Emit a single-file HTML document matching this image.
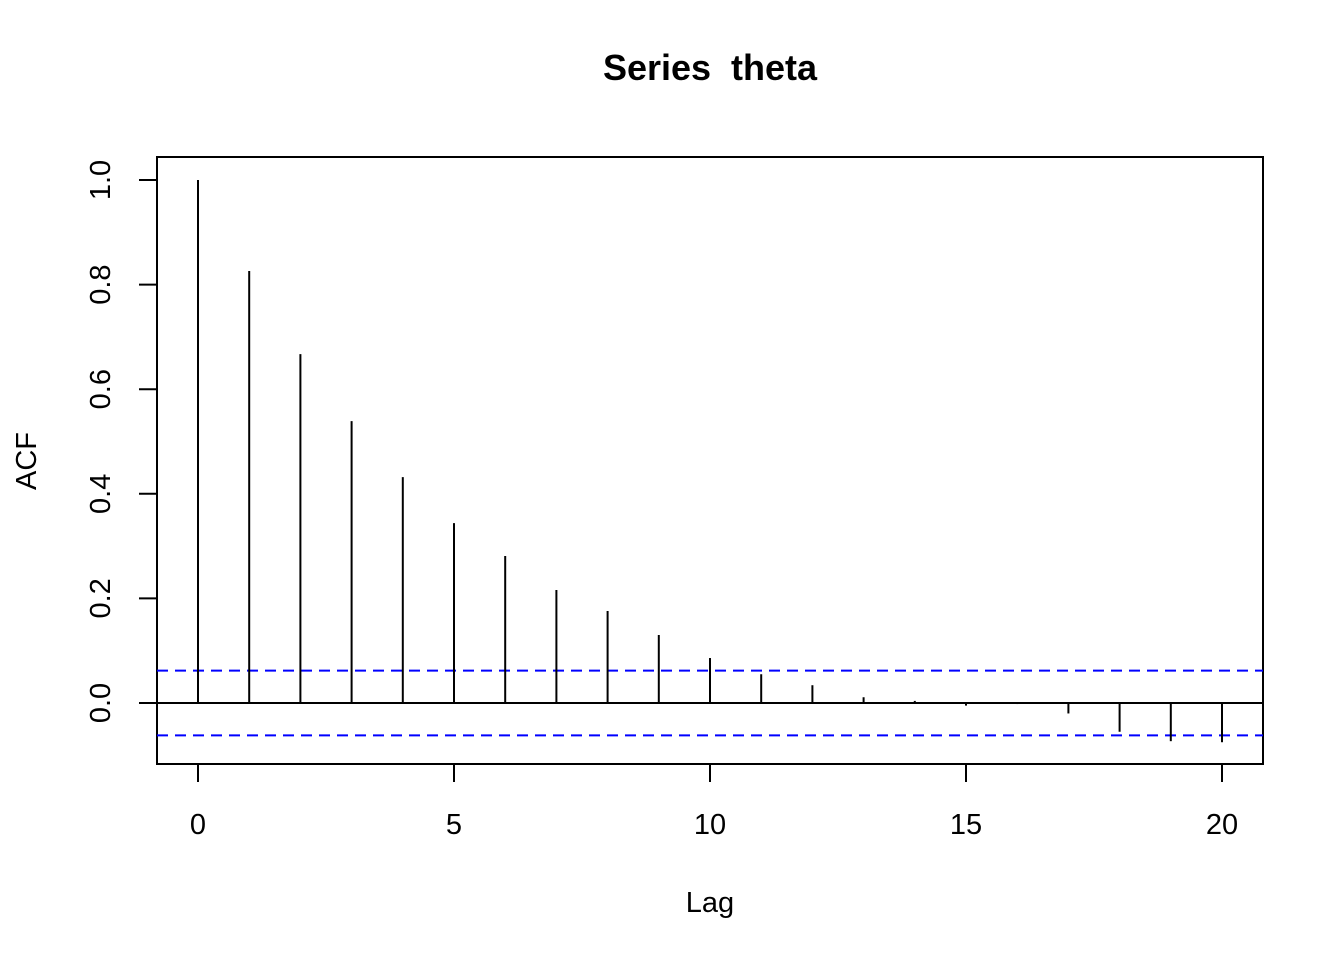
<!DOCTYPE html>
<html><head><meta charset="utf-8"><style>
html,body{margin:0;padding:0;background:#fff;}
svg{display:block;font-family:"Liberation Sans",Arial,sans-serif;}
</style></head><body>
<svg id="chart" width="1344" height="960">
<text x="710" y="80" text-anchor="middle" font-size="36" font-weight="bold" style="white-space:pre" xml:space="preserve">Series  theta</text>
<rect x="157" y="157" width="1106" height="607" fill="none" stroke="#000" stroke-width="2"/>
<text x="710" y="912" text-anchor="middle" font-size="29">Lag</text>
<text transform="translate(36,461) rotate(-90)" text-anchor="middle" font-size="29">ACF</text>
<g id="marks"></g>
</svg>
<script>
const lags=[0,1,2,3,4,5,6,7,8,9,10,11,12,13,14,15,16,17,18,19,20];
const acfValues=[1.0,0.826,0.667,0.539,0.432,0.344,0.281,0.216,0.176,0.130,0.086,0.055,0.034,0.011,0.004,-0.005,-0.002,-0.020,-0.055,-0.073,-0.075];
const ciBound=[0.062];
const xTicks=[0,5,10,15,20];
const yTicks=[0.0,0.2,0.4,0.6,0.8,1.0];
const NS="http://www.w3.org/2000/svg";
const X=v=>198+v*51.2;
const Y=v=>703-v*523;
const g=document.getElementById('marks');
function mk(t,a){const e=document.createElementNS(NS,t);for(const k in a)e.setAttribute(k,a[k]);g.appendChild(e);return e;}
let z=mk('line',{x1:157,x2:1263,y1:Y(0),y2:Y(0),stroke:'#000','stroke-width':2});


[ciBound[0],-ciBound[0]].forEach((c,i)=>{
 const l=mk('line',{x1:157,x2:1263,y1:Y(c),y2:Y(c),stroke:'#0000ff','stroke-width':2,'stroke-dasharray':'11,7'});
 
 
});
lags.forEach((lag,i)=>{
 const l=mk('line',{x1:X(lag),x2:X(lag),y1:Y(0),y2:Y(acfValues[i]),stroke:'#000','stroke-width':2});
 
 
});
xTicks.forEach(t=>{
 const l=mk('line',{x1:X(t),x2:X(t),y1:764,y2:782,stroke:'#000','stroke-width':2});
 
 
 const tx=mk('text',{x:X(t),y:834,'text-anchor':'middle','font-size':29});
 tx.textContent=t;
 
 
});
yTicks.forEach(t=>{
 const l=mk('line',{x1:139,x2:157,y1:Y(t),y2:Y(t),stroke:'#000','stroke-width':2});
 
 
 const tx=mk('text',{transform:`translate(110,${Y(t)}) rotate(-90)`,'text-anchor':'middle','font-size':29});
 tx.textContent=t.toFixed(1);
 
 
});
</script>
</body></html>
